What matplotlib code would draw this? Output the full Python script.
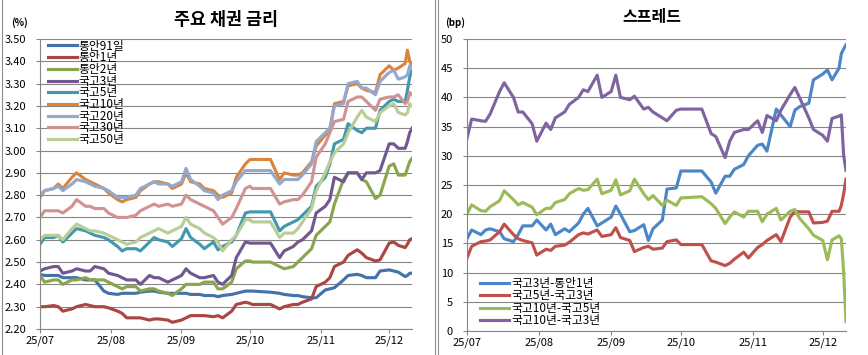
import matplotlib
matplotlib.use('Agg')
import matplotlib.pyplot as plt
import matplotlib.dates as mdates
from matplotlib.lines import Line2D
from matplotlib.ticker import MultipleLocator, FormatStrFormatter
import pandas as pd

plt.rcParams['font.family'] = ['Noto Sans CJK KR', 'DejaVu Sans']

DATES = ['2025-07-01', '2025-07-03', '2025-07-07', '2025-07-09', '2025-07-11',
         '2025-07-15', '2025-07-17', '2025-07-21', '2025-07-23', '2025-07-25',
         '2025-07-29', '2025-07-31', '2025-08-04', '2025-08-06', '2025-08-08',
         '2025-08-12', '2025-08-14', '2025-08-18', '2025-08-20', '2025-08-22',
         '2025-08-26', '2025-08-28', '2025-09-01', '2025-09-03', '2025-09-05',
         '2025-09-09', '2025-09-11', '2025-09-15', '2025-09-17', '2025-09-19',
         '2025-09-23', '2025-09-25', '2025-09-29', '2025-10-01', '2025-10-02',
         '2025-10-10', '2025-10-14', '2025-10-16', '2025-10-20', '2025-10-22',
         '2025-10-24', '2025-10-28', '2025-10-30', '2025-11-03', '2025-11-05',
         '2025-11-07', '2025-11-11', '2025-11-13', '2025-11-17', '2025-11-19',
         '2025-11-21', '2025-11-25', '2025-11-27', '2025-12-01', '2025-12-03',
         '2025-12-05', '2025-12-08', '2025-12-09', '2025-12-10', '2025-12-11']

# bond yields (%)
MSB_91D = [2.445, 2.44, 2.44, 2.44, 2.43, 2.43, 2.43, 2.42, 2.42, 2.42, 2.37, 2.36,
           2.355, 2.36, 2.36, 2.36, 2.365, 2.37, 2.37, 2.365, 2.36, 2.36,
           2.36, 2.36, 2.355, 2.355, 2.35, 2.35, 2.345, 2.35, 2.355, 2.36, 2.37,
           2.37, 2.37, 2.365, 2.36, 2.355, 2.35, 2.35, 2.345, 2.34, 2.34,
           2.375, 2.38, 2.385, 2.42, 2.44, 2.445, 2.44, 2.43, 2.43, 2.46,
           2.465, 2.46, 2.455, 2.435, 2.44, 2.45, 2.45]
MSB_1Y = [2.30, 2.30, 2.305, 2.30, 2.28, 2.29, 2.30, 2.31, 2.305, 2.30, 2.30, 2.295,
          2.28, 2.27, 2.25, 2.25, 2.25, 2.24, 2.245, 2.245, 2.24, 2.23,
          2.24, 2.25, 2.26, 2.26, 2.26, 2.255, 2.26, 2.25, 2.28, 2.31, 2.32,
          2.315, 2.31, 2.31, 2.29, 2.30, 2.31, 2.31, 2.32, 2.335, 2.39,
          2.41, 2.43, 2.48, 2.50, 2.53, 2.555, 2.54, 2.52, 2.505, 2.51,
          2.585, 2.59, 2.575, 2.565, 2.58, 2.60, 2.605]
MSB_2Y = [2.44, 2.41, 2.42, 2.42, 2.40, 2.42, 2.42, 2.43, 2.42, 2.42, 2.42, 2.41,
          2.39, 2.38, 2.39, 2.39, 2.37, 2.38, 2.38, 2.37, 2.36, 2.35,
          2.38, 2.40, 2.40, 2.40, 2.41, 2.41, 2.38, 2.38, 2.41, 2.47, 2.505,
          2.505, 2.50, 2.50, 2.48, 2.47, 2.48, 2.50, 2.52, 2.56, 2.62,
          2.66, 2.68, 2.76, 2.87, 2.90, 2.90, 2.87, 2.86, 2.785, 2.80,
          2.93, 2.94, 2.89, 2.89, 2.92, 2.95, 2.965]
KTB_3Y = [2.46, 2.47, 2.48, 2.48, 2.45, 2.46, 2.47, 2.46, 2.46, 2.48, 2.47, 2.45,
          2.44, 2.43, 2.42, 2.42, 2.40, 2.44, 2.43, 2.43, 2.41, 2.42,
          2.44, 2.47, 2.45, 2.43, 2.43, 2.44, 2.41, 2.40, 2.44, 2.52, 2.59,
          2.585, 2.585, 2.585, 2.52, 2.55, 2.57, 2.59, 2.60, 2.64, 2.72,
          2.75, 2.78, 2.88, 2.86, 2.90, 2.90, 2.87, 2.90, 2.90, 2.91,
          3.03, 3.03, 3.01, 3.01, 3.04, 3.08, 3.10]
KTB_5Y = [2.58, 2.61, 2.61, 2.62, 2.59, 2.63, 2.65, 2.64, 2.63, 2.62, 2.61, 2.60,
          2.57, 2.55, 2.56, 2.56, 2.55, 2.59, 2.61, 2.60, 2.59, 2.57,
          2.605, 2.65, 2.61, 2.58, 2.56, 2.59, 2.555, 2.57, 2.59, 2.62, 2.72,
          2.725, 2.725, 2.725, 2.64, 2.66, 2.68, 2.69, 2.71, 2.75, 2.84,
          2.88, 2.94, 3.03, 3.05, 3.12, 3.09, 3.08, 3.10, 3.10, 3.18,
          3.22, 3.23, 3.22, 3.22, 3.27, 3.33, 3.36]
KTB_10Y = [2.79, 2.82, 2.83, 2.85, 2.83, 2.88, 2.90, 2.87, 2.86, 2.85, 2.83, 2.81,
           2.78, 2.77, 2.78, 2.79, 2.82, 2.85, 2.86, 2.86, 2.85, 2.83,
           2.85, 2.90, 2.86, 2.85, 2.83, 2.82, 2.80, 2.79, 2.81, 2.88, 2.94,
           2.96, 2.96, 2.96, 2.87, 2.90, 2.89, 2.89, 2.90, 2.95, 3.02,
           3.07, 3.09, 3.21, 3.22, 3.29, 3.30, 3.28, 3.27, 3.26, 3.34,
           3.38, 3.36, 3.37, 3.39, 3.45, 3.40, 3.38]
KTB_20Y = [2.80, 2.82, 2.83, 2.84, 2.82, 2.85, 2.87, 2.86, 2.85, 2.84, 2.83, 2.82,
           2.79, 2.79, 2.79, 2.80, 2.83, 2.85, 2.86, 2.85, 2.85, 2.84,
           2.86, 2.92, 2.87, 2.84, 2.82, 2.81, 2.78, 2.80, 2.82, 2.86, 2.91,
           2.91, 2.91, 2.91, 2.85, 2.87, 2.87, 2.87, 2.89, 2.94, 3.04,
           3.08, 3.10, 3.20, 3.21, 3.30, 3.31, 3.28, 3.28, 3.25, 3.31,
           3.35, 3.36, 3.32, 3.33, 3.34, 3.38, 3.37]
KTB_30Y = [2.70, 2.73, 2.73, 2.73, 2.72, 2.75, 2.78, 2.75, 2.75, 2.74, 2.74, 2.72,
           2.70, 2.70, 2.70, 2.71, 2.73, 2.75, 2.76, 2.75, 2.76, 2.75,
           2.76, 2.80, 2.78, 2.76, 2.75, 2.73, 2.70, 2.67, 2.70, 2.74, 2.83,
           2.84, 2.83, 2.83, 2.76, 2.77, 2.78, 2.78, 2.80, 2.86, 2.97,
           3.03, 3.08, 3.13, 3.14, 3.22, 3.24, 3.24, 3.22, 3.18, 3.23,
           3.24, 3.24, 3.25, 3.21, 3.22, 3.26, 3.25]
KTB_50Y = [2.60, 2.62, 2.62, 2.62, 2.60, 2.65, 2.67, 2.65, 2.64, 2.64, 2.63, 2.62,
           2.60, 2.59, 2.58, 2.59, 2.61, 2.63, 2.64, 2.65, 2.63, 2.64,
           2.66, 2.70, 2.67, 2.65, 2.63, 2.61, 2.59, 2.55, 2.60, 2.62, 2.69,
           2.69, 2.68, 2.68, 2.61, 2.63, 2.63, 2.65, 2.68, 2.74, 2.82,
           2.90, 2.95, 2.99, 3.03, 3.08, 3.15, 3.18, 3.15, 3.13, 3.17,
           3.20, 3.21, 3.17, 3.16, 3.17, 3.21, 3.20]

# spreads (bp)
SP_3Y_1Y = [15.8, 17.3, 16.5, 17.3, 17.5, 17, 15.8, 15.3, 16.5, 18, 18, 19,
            17.3, 18.3, 16.5, 17.5, 17, 18.5, 20, 21, 18, 18.5,
            19.5, 21.4, 20, 17, 17.2, 18.2, 15.5, 17.5, 19, 24.3, 24.5,
            27.4, 27.4, 27.4, 25.5, 23.6, 26.5, 26.5, 27.7, 28.5, 30,
            31.8, 32, 30.8, 38, 37, 35, 37.8, 38.4, 39, 43,
            44, 44.7, 43, 45, 47.5, 48.3, 49]
SP_5Y_3Y = [12.5, 14.5, 15.3, 15.4, 15.6, 17, 18.3, 16.5, 15.8, 15.5, 15.1, 13,
            14, 13.8, 14.5, 14.7, 15.2, 16.5, 16.8, 16.6, 17.3, 16.2,
            16.5, 17.7, 16, 15.5, 13.6, 14.3, 14.5, 14, 14.2, 15.3, 15.6,
            14.8, 14.8, 14.8, 12, 11.8, 11.2, 11.6, 12.3, 13.5, 12.5,
            14.3, 14.8, 15.5, 16.5, 15.3, 19.5, 20.5, 20.4, 20.4, 18.5,
            18.6, 18.8, 20.5, 20.5, 21.5, 23.5, 26]
SP_10Y_5Y = [20, 21.6, 20.6, 20.5, 21.3, 22.3, 24, 22.5, 21.6, 22, 21.2, 19.9,
             21, 21, 22, 22.5, 23.5, 24.4, 24.1, 24.2, 26, 23.5,
             24.1, 25.9, 23.3, 24, 26, 23.5, 22.5, 23.2, 21.5, 22.4, 21.5,
             22.8, 22.8, 23, 21.8, 21, 18.4, 19.5, 20.4, 19.5, 20.5,
             20.5, 18.7, 20, 21, 19, 20.5, 20.8, 19.3, 17.5, 16.4,
             15.5, 12.2, 15.6, 16.3, 15.8, 10, 1.6]
SP_10Y_3Y = [33, 36.3, 36, 35.9, 37.2, 41, 42.5, 40, 37.5, 37.5, 35.5, 32.5,
             35.6, 34.5, 36.5, 37.5, 38.8, 40, 41.3, 41, 43.8, 40,
             41, 43.8, 40, 39.6, 40.2, 38, 38.3, 37.5, 36.5, 36, 37.8,
             38, 38, 38, 33.8, 33.3, 29.7, 32.5, 34, 34.5, 34.5,
             36, 34, 36.9, 36, 37.8, 40.5, 41.7, 40, 36.5, 34.5,
             33.5, 32.5, 36.4, 36.8, 37, 30, 27.5]

YIELD_LABELS = ['통안91일', '통안1년', '통안2년', '국고3년', '국고5년',
                '국고10년', '국고20년', '국고30년', '국고50년']
YIELD_COLORS = ['#4572A7', '#AA4643', '#89A54E', '#71588F', '#4198AF',
                '#DB843D', '#93A9CF', '#D19392', '#B9CD96']
SPREAD_LABELS = ['국고3년-통안1년', '국고5년-국고3년', '국고10년-국고5년', '국고10년-국고3년']
SPREAD_COLORS = ['#4A86C8', '#C0504D', '#9BBB59', '#8064A2']

GRID = '#868686'


def style_axes(ax):
    '''common excel-like look'''
    ax.set_xlim(pd.Timestamp('2025-07-01'), pd.Timestamp('2025-12-11'))
    ax.xaxis.set_major_locator(mdates.MonthLocator())
    ax.xaxis.set_major_formatter(mdates.DateFormatter('%y/%m'))
    ax.grid(axis='y', color=GRID, linewidth=0.8)
    ax.set_axisbelow(True)
    for side in ['top', 'right']:
        ax.spines[side].set_visible(False)
    for side in ['left', 'bottom']:
        ax.spines[side].set_color(GRID)
        ax.spines[side].set_linewidth(0.8)
    ax.tick_params(axis='both', colors=GRID, labelcolor='black',
                   labelsize=8, length=3, width=0.8)
    ax.tick_params(axis='y', pad=7)
    ax.tick_params(axis='x', pad=2)


def yield_chart(ax, dates):
    series = [MSB_91D, MSB_1Y, MSB_2Y, KTB_3Y, KTB_5Y,
              KTB_10Y, KTB_20Y, KTB_30Y, KTB_50Y]
    for vals, lab, col in zip(series, YIELD_LABELS, YIELD_COLORS):
        ax.plot(dates, vals, color=col, linewidth=2.25, label=lab)
    style_axes(ax)
    ax.set_ylim(2.2, 3.5)
    ax.yaxis.set_major_locator(MultipleLocator(0.1))
    ax.yaxis.set_major_formatter(FormatStrFormatter('%.2f'))
    ax.legend(loc='upper left', bbox_to_anchor=(0.022, 0.998), frameon=False,
              fontsize=8.5, handlelength=2.4, handletextpad=0.2,
              labelspacing=-0.11, borderpad=0, borderaxespad=0)


def spread_chart(ax, dates):
    series = [SP_3Y_1Y, SP_5Y_3Y, SP_10Y_5Y, SP_10Y_3Y]
    for vals, lab, col in zip(series, SPREAD_LABELS, SPREAD_COLORS):
        ax.plot(dates, vals, color=col, linewidth=2.25, label=lab)
    style_axes(ax)
    ax.set_ylim(0, 50)
    ax.yaxis.set_major_locator(MultipleLocator(5))
    ax.legend(loc='lower left', bbox_to_anchor=(0.035, 0.012), frameon=False,
              fontsize=8.5, handlelength=2.4, handletextpad=0.2,
              labelspacing=-0.04, borderpad=0, borderaxespad=0)


def main():
    '''Main'''
    dates = pd.to_datetime(DATES)
    fig = plt.figure(figsize=(8.68, 3.55), dpi=100)

    ax1 = fig.add_axes([40 / 868, 26 / 355, 372 / 868, 290 / 355])
    ax2 = fig.add_axes([467 / 868, 24 / 355, 379 / 868, 292 / 355])
    yield_chart(ax1, dates)
    spread_chart(ax2, dates)

    fig.text(226 / 868, 1 - 20 / 355, '주요 채권 금리', ha='center', va='center',
             fontsize=12.5, fontweight='bold')
    fig.text(652 / 868, 1 - 17 / 355, '스프레드', ha='center', va='center',
             fontsize=11.5, fontweight='bold')
    fig.text(20 / 868, 1 - 23 / 355, '(%)', ha='center', va='center',
             fontsize=7, fontweight='bold')
    fig.text(455 / 868, 1 - 23 / 355, '(bp)', ha='center', va='center',
             fontsize=7, fontweight='bold')

    # panel borders
    for xp in [1.5, 434.5, 437.5]:
        fig.add_artist(Line2D([xp / 868, xp / 868], [0, 1], color='#8C8C8C',
                              linewidth=0.8))

    fig.savefig('out.png', dpi=100)


if __name__ == "__main__":
    main()
